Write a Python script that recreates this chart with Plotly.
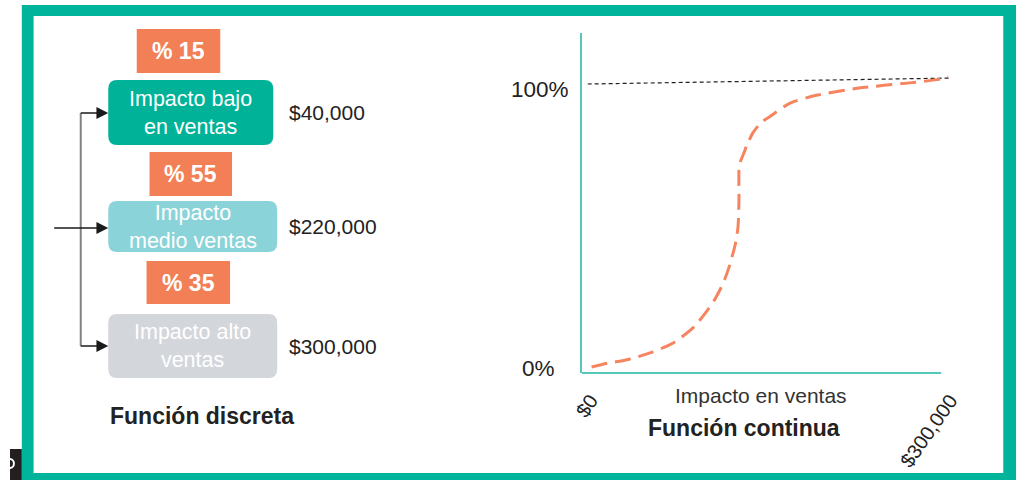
import plotly.graph_objects as go

W, H = 1026, 480

# ---------------- data ----------------
discrete_labels = ["Impacto bajo<br>en ventas", "Impacto<br>medio ventas", "Impacto alto<br>ventas"]
discrete_probs = [15, 55, 35]
discrete_amounts = [40000, 220000, 300000]

curve_x = [8200, 23000, 36900, 59000, 76300, 93500, 105000, 110700, 118100, 123000,
           128000, 130400, 131200, 131200, 132000, 135300, 137800, 142700, 149300,
           156600, 173900, 196800, 231300, 273900, 300200, 305900]
curve_y = [0.35, 1.8, 2.8, 5.6, 8.8, 14.4, 20.4, 23.9, 29.9, 35.6,
           43.3, 49.6, 59.2, 69.7, 72.2, 75.7, 78.5, 82.7, 86.3,
           88.4, 93.3, 96.1, 98.6, 100.4, 101.8, 102.5]
ref_x = [4900, 308400]
ref_y = [100, 102.1]

x_tickvals = [0, 300000]
x_ticktext = ["$0", "$300,000"]
y_tickvals = [0, 100]
y_ticktext = ["0%", "100%"]

# ---------------- style ----------------
FONT = "Liberation Sans, Arial, sans-serif"
TEAL = "#00B49C"
AXIS_TEAL = "#55C8B9"
ORANGE = "#F27F56"
CURVE = "#F5845F"
BOX_COLORS = ["#00B398", "#8AD3D9", "#D3D6DB"]
TXT = "#222222"


def px(x):
    return x / W


def py(y):
    return 1 - y / H


def rrect(x0, y0, x1, y1, r):
    pts = [
        ("M", [(x0 + r, y0)]), ("L", [(x1 - r, y0)]), ("Q", [(x1, y0), (x1, y0 + r)]),
        ("L", [(x1, y1 - r)]), ("Q", [(x1, y1), (x1 - r, y1)]), ("L", [(x0 + r, y1)]),
        ("Q", [(x0, y1), (x0, y1 - r)]), ("L", [(x0, y0 + r)]), ("Q", [(x0, y0), (x0 + r, y0)]),
    ]
    s = ""
    for cmd, ps in pts:
        s += cmd + " " + " ".join(f"{px(a):.5f},{py(b):.5f}" for a, b in ps) + " "
    return s + "Z"


def tri(xt, yc, length=12, half=6):
    return (f"M {px(xt):.5f},{py(yc):.5f} L {px(xt-length):.5f},{py(yc-half):.5f} "
            f"L {px(xt-length):.5f},{py(yc+half):.5f} Z")


shapes = []
ann = []

# frame
shapes.append(dict(type="rect", xref="paper", yref="paper", x0=px(12), x1=px(1024), y0=py(481), y1=py(5),
                   fillcolor=TEAL, line=dict(width=0), layer="below"))
shapes.append(dict(type="rect", xref="paper", yref="paper", x0=px(24), x1=px(1011), y0=py(473), y1=py(16),
                   fillcolor="white", line=dict(width=0), layer="below"))
shapes.append(dict(type="rect", xref="paper", yref="paper", x0=px(0), x1=px(12), y0=py(481), y1=py(449),
                   fillcolor="#231F20", line=dict(width=0), layer="below"))
shapes.append(dict(type="circle", xref="paper", yref="paper", x0=px(-4), x1=px(4), y0=py(468), y1=py(459),
                   line=dict(color="white", width=2), layer="below"))

# discrete diagram layout (pixels)
boxes = [(100, 80, 268, 145), (100, 201, 272, 252), (100, 314, 272, 378)]
pboxes = [(129, 29, 214, 73), (142, 152, 226, 196), (139, 261, 224, 304)]
for i in range(3):
    x0, y0, x1, y1 = boxes[i]
    shapes.append(dict(type="path", xref="paper", yref="paper", path=rrect(x0, y0, x1, y1, 9),
                       fillcolor=BOX_COLORS[i], line=dict(width=0)))
    cy = (y0 + y1) / 2
    ann.append(dict(xref="paper", yref="paper", x=px((x0 + x1) / 2), y=py(cy), text=discrete_labels[i],
                    showarrow=False, xanchor="center", yanchor="middle",
                    font=dict(family=FONT, size=21.5, color="white")))
    ann.append(dict(xref="paper", yref="paper", x=px(282), y=py(cy), text=f"${discrete_amounts[i]:,}",
                    showarrow=False, xanchor="left", yanchor="middle",
                    font=dict(family=FONT, size=21, color=TXT)))
    a0, b0, a1, b1 = pboxes[i]
    shapes.append(dict(type="rect", xref="paper", yref="paper", x0=px(a0), x1=px(a1), y0=py(b1), y1=py(b0),
                       fillcolor=ORANGE, line=dict(width=0)))
    ann.append(dict(xref="paper", yref="paper", x=px((a0 + a1) / 2), y=py((b0 + b1) / 2), text=f"% {discrete_probs[i]}",
                    showarrow=False, xanchor="center", yanchor="middle",
                    font=dict(family=FONT, size=23, color="white", weight="bold")))

# connectors
shapes.append(dict(type="line", xref="paper", yref="paper", x0=px(72), x1=px(72), y0=py(113), y1=py(346),
                   line=dict(color="#808080", width=2)))
for yy, xs in [(113, 72), (228, 45), (346, 72)]:
    shapes.append(dict(type="line", xref="paper", yref="paper", x0=px(xs), x1=px(90), y0=py(yy), y1=py(yy),
                       line=dict(color="#1a1a1a", width=1.5)))
    shapes.append(dict(type="path", xref="paper", yref="paper", path=tri(100, yy),
                       fillcolor="#1a1a1a", line=dict(width=0)))

ann.append(dict(xref="paper", yref="paper", x=px(100), y=py(416), text="Función discreta", showarrow=False,
                xanchor="left", yanchor="middle", font=dict(family=FONT, size=23, color=TXT, weight="bold")))

# continuous chart
shapes.append(dict(type="line", xref="x", yref="y domain", x0=0, x1=300000, y0=0, y1=0,
                   line=dict(color=AXIS_TEAL, width=2)))
ann.append(dict(xref="paper", yref="y", x=px(557), y=y_tickvals[0], text=y_ticktext[0], showarrow=False,
                xanchor="right", yanchor="middle", font=dict(family=FONT, size=22.5, color=TXT)))
ann.append(dict(xref="paper", yref="y", x=px(571), y=y_tickvals[1], yshift=-5, text=y_ticktext[1], showarrow=False,
                xanchor="right", yanchor="middle", font=dict(family=FONT, size=22.5, color=TXT)))
ann.append(dict(xref="paper", yref="paper", x=px(764), y=py(395), text="Impacto en ventas", showarrow=False,
                xanchor="center", yanchor="middle", font=dict(family=FONT, size=21, color="#333333")))
ann.append(dict(xref="paper", yref="paper", x=px(747), y=py(428), text="Función continua", showarrow=False,
                xanchor="center", yanchor="middle", font=dict(family=FONT, size=23, color=TXT, weight="bold")))

fig = go.Figure()
fig.add_trace(go.Scatter(x=ref_x, y=ref_y, mode="lines", line=dict(color="#222222", width=1.2, dash="4px,3px"),
                         hoverinfo="skip"))
fig.add_trace(go.Scatter(x=curve_x, y=curve_y, mode="lines",
                         line=dict(color=CURVE, width=3, dash="16px,8px", shape="spline", smoothing=0.6)))

fig.update_layout(
    width=W, height=H, autosize=False,
    margin=dict(l=0, r=0, t=0, b=0, pad=0),
    paper_bgcolor="white", plot_bgcolor="rgba(0,0,0,0)",
    showlegend=False,
    shapes=shapes, annotations=ann,
    xaxis=dict(domain=[582 / W, 960 / W], range=[0, 310000], showgrid=False, zeroline=False, showline=False,
               tickvals=x_tickvals, ticktext=x_ticktext, tickangle=-55, ticks="",
               ticklabelshift=9, ticklabelstandoff=11,
               tickfont=dict(family=FONT, size=20, color=TXT)),
    yaxis=dict(domain=[(H - 373) / H, (H - 33) / H], range=[-1.76, 117.96], showgrid=False, zeroline=False,
               showline=True, linecolor=AXIS_TEAL, linewidth=2, showticklabels=False, ticks=""),
)

fig.write_html("out.html")
